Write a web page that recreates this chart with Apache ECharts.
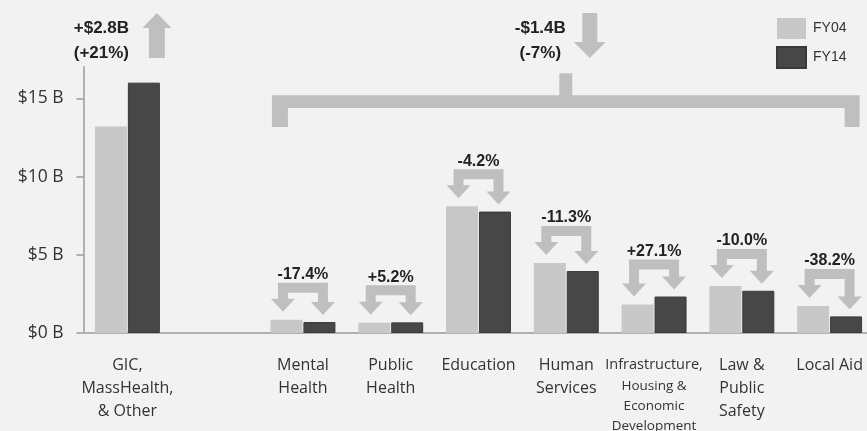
<!DOCTYPE html>
<html>
<head>
<meta charset="utf-8">
<script src="https://cdn.jsdelivr.net/npm/echarts@6/dist/echarts.min.js"></script>
<style>
html,body{margin:0;padding:0;background:#f2f2f2;}
#chart{width:867px;height:431px;}
</style>
</head>
<body>
<div id="chart"></div>
<script>
const categories = ['GIC,\nMassHealth,\n& Other', '', 'Mental\nHealth', 'Public\nHealth', 'Education', 'Human\nServices', 'Infrastructure,\nHousing &\nEconomic\nDevelopment', 'Law &\nPublic\nSafety', 'Local Aid'];
const fy04 = [13.2, null, 0.85, 0.65, 8.1, 4.47, 1.82, 3.0, 1.72];
const fy14 = [16.0, null, 0.70, 0.68, 7.76, 3.96, 2.33, 2.7, 1.06];
const changeLabels = ['', '', '-17.4%', '+5.2%', '-4.2%', '-11.3%', '+27.1%', '-10.0%', '-38.2%'];
const yTicks = [0, 5, 10, 15];
const totalUpLabel = ['+$2.8B', '(+21%)'];
const totalDownLabel = ['-$1.4B', '(-7%)'];
const seriesNames = ['FY04', 'FY14'];

const C04 = '#c8c8c8', C14 = '#474747', ARROW = '#bfbfbf';
const BOLD = '"Liberation Sans", Arial, sans-serif';

const chart = echarts.init(document.getElementById('chart'), null, {renderer: 'canvas'});

function labelFormatter(v) {
  if (v.indexOf('Infrastructure') === 0) {
    const lines = v.split('\n');
    return '{a|' + lines[0] + '}\n' + lines.slice(1).map(l => '{b|' + l + '}').join('\n');
  }
  return v.split('\n').map(l => '{n|' + l + '}').join('\n');
}

function archItem(params, api) {
  const i = params.dataIndex;
  if (!changeLabels[i]) return null;
  const c = api.coord([i, 0])[0];
  const t04 = api.coord([i, fy04[i]])[1];
  const t14 = api.coord([i, fy14[i]])[1];
  const T = Math.min(t04, t14) - 37;
  const w = 10, h = 12, L = 13;
  const lx = c - 20, rx = c + 20;
  const ly = t04 - 8, ry = t14 - 7;
  const pts = [
    [lx - w / 2, T], [rx + w / 2, T], [rx + w / 2, ry - L], [rx + h, ry - L], [rx, ry],
    [rx - h, ry - L], [rx - w / 2, ry - L], [rx - w / 2, T + w], [lx + w / 2, T + w],
    [lx + w / 2, ly - L], [lx + h, ly - L], [lx, ly], [lx - h, ly - L], [lx - w / 2, ly - L]
  ];
  return {
    type: 'group',
    children: [
      {type: 'polygon', shape: {points: pts}, style: {fill: ARROW}},
      {type: 'text', x: c, y: T - 8, style: {text: changeLabels[i], font: 'bold 16px ' + BOLD, fill: '#222', align: 'center', verticalAlign: 'middle'}}
    ]
  };
}

function overallItem(params, api) {
  if (params.dataIndex !== 0) return null;
  const cx = i => api.coord([i, 0])[0];
  const py = v => api.coord([0, v])[1];
  const children = [];
  const txt = (x, y, s) => ({type: 'text', x, y, style: {text: s, font: 'bold 17px ' + BOLD, fill: '#222', align: 'center', verticalAlign: 'middle'}});
  // up arrow over GIC
  const ux = cx(0) + 29.5;
  const uTip = py(20.45), uHb = py(19.49), uSb = py(17.57);
  children.push({type: 'polygon', shape: {points: [[ux, uTip], [ux + 14.5, uHb], [ux + 8, uHb], [ux + 8, uSb], [ux - 8, uSb], [ux - 8, uHb], [ux - 14.5, uHb]]}, style: {fill: ARROW}});
  children.push(txt(cx(0) - 26, py(19.45), totalUpLabel[0]));
  children.push(txt(cx(0) - 26, py(17.85), totalUpLabel[1]));
  // bracket
  const L = cx(2) - 31, R = cx(8) + 30;
  const top = py(15.2), bandB = py(14.38), legB = py(13.16);
  children.push({type: 'polygon', shape: {points: [[L, top], [R, top], [R, legB], [R - 15, legB], [R - 15, bandB], [L + 16, bandB], [L + 16, legB], [L, legB]]}, style: {fill: ARROW}});
  const k = cx(5);
  children.push({type: 'rect', shape: {x: k - 7, y: py(16.6), width: 13, height: top - py(16.6) + 1}, style: {fill: ARROW}});
  // down arrow
  const dx = k + 23.5;
  const dTop = py(20.45), dHb = py(18.6), dTip = py(17.57);
  children.push({type: 'polygon', shape: {points: [[dx - 7.5, dTop], [dx + 7.5, dTop], [dx + 7.5, dHb], [dx + 16, dHb], [dx, dTip], [dx - 16, dHb], [dx - 7.5, dHb]]}, style: {fill: ARROW}});
  children.push(txt(k - 26, py(19.45), totalDownLabel[0]));
  children.push(txt(k - 26, py(17.85), totalDownLabel[1]));
  return {type: 'group', children};
}

chart.setOption({
  backgroundColor: '#f2f2f2',
  animation: false,
  grid: {left: 83.5, width: 790, top: 67, bottom: 98, outerBoundsMode: 'none', containLabel: false},
  legend: {
    data: seriesNames, orient: 'vertical', left: 776, top: 18, padding: 0,
    itemWidth: 29, itemHeight: 21, itemGap: 7, icon: 'rect',
    textStyle: {fontSize: 14, fontFamily: BOLD, color: '#333', padding: [0, 0, 0, 2]}
  },
  xAxis: {
    type: 'category', data: categories,
    axisLine: {show: true, lineStyle: {color: '#b0b0b0', width: 2}},
    axisTick: {show: false},
    axisLabel: {
      interval: 0, margin: 21, color: '#333',
      formatter: labelFormatter,
      rich: {
        n: {fontSize: 16, lineHeight: 23, fontFamily: '"Open Sans", sans-serif', color: '#333', align: 'center'},
        a: {fontSize: 14.5, lineHeight: 22, fontFamily: '"Open Sans", sans-serif', color: '#333', align: 'center'},
        b: {fontSize: 13.5, lineHeight: 20, fontFamily: '"Open Sans", sans-serif', color: '#333', align: 'center'}
      }
    }
  },
  yAxis: {
    type: 'value', min: 0, max: 17, interval: 5,
    axisLine: {show: true, lineStyle: {color: '#b0b0b0', width: 2}},
    axisTick: {show: true, length: 7, customValues: yTicks, lineStyle: {color: '#b0b0b0', width: 2}},
    axisLabel: {customValues: yTicks, formatter: '${value} B', margin: 20, fontSize: 17.5, fontFamily: '"Open Sans", sans-serif', color: '#333'},
    splitLine: {show: false}
  },
  series: [
    {name: seriesNames[0], type: 'bar', data: fy04, barWidth: 32, barGap: '3%', itemStyle: {color: C04}},
    {name: seriesNames[1], type: 'bar', data: fy14, barWidth: 32, barGap: '3%', itemStyle: {color: C14, borderColor: '#3a3a3a', borderWidth: 1}},
    {type: 'custom', name: 'changes', renderItem: archItem, data: changeLabels.map((l, i) => [i, 0]), clip: false, silent: true, z: 5},
    {type: 'custom', name: 'totals', renderItem: overallItem, data: [[0, 0]], clip: false, silent: true, z: 5}
  ]
});
</script>
</body>
</html>
